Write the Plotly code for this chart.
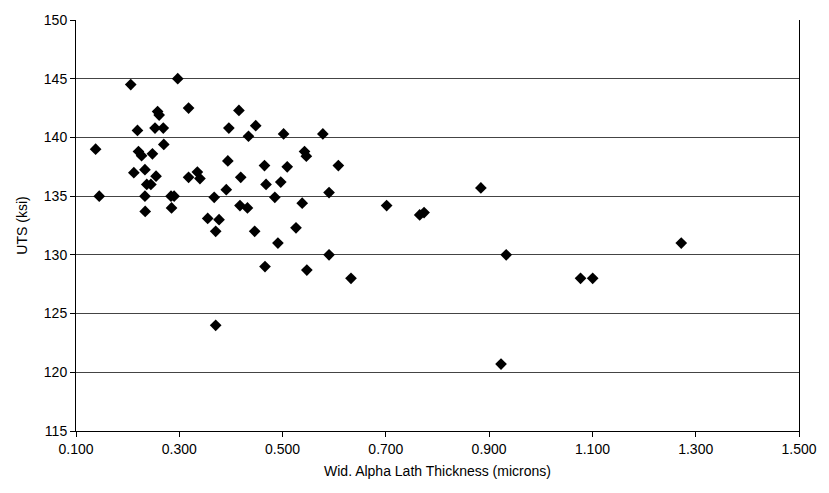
import plotly.graph_objects as go

thickness = [0.138, 0.145, 0.206, 0.297, 0.219, 0.258, 0.261, 0.253, 0.269, 0.270,
             0.221, 0.227, 0.248, 0.212, 0.2335, 0.255, 0.237, 0.245, 0.2335, 0.284,
             0.290, 0.234, 0.285, 0.318, 0.318, 0.335, 0.340, 0.3676, 0.355, 0.377,
             0.394, 0.396, 0.4155, 0.391, 0.419, 0.4175, 0.432, 0.434, 0.448, 0.465,
             0.468, 0.485, 0.4965, 0.502, 0.509, 0.538, 0.5425, 0.546, 0.578, 0.590,
             0.608, 0.7015, 0.7655, 0.774, 0.884, 0.526, 0.491, 0.590, 0.933, 0.547,
             0.6325, 0.3705, 0.446, 0.466, 0.3705, 1.077, 1.1005, 1.272, 0.923]
uts = [139.0, 135.0, 144.5, 145.0, 140.6, 142.2, 141.9, 140.8, 140.8, 139.4,
       138.8, 138.45, 138.6, 137.0, 137.25, 136.7, 136.0, 136.0, 135.0, 135.0,
       135.0, 133.7, 134.0, 142.5, 136.6, 137.05, 136.5, 134.9, 133.1, 133.0,
       138.0, 140.8, 142.3, 135.55, 136.6, 134.2, 134.0, 140.1, 141.0, 137.6,
       136.0, 134.9, 136.2, 140.3, 137.5, 134.4, 138.8, 138.4, 140.3, 135.3,
       137.6, 134.2, 133.4, 133.6, 135.7, 132.3, 131.0, 130.0, 130.0, 128.7,
       128.0, 132.0, 132.0, 129.0, 124.0, 128.0, 128.0, 131.0, 120.7]

x_ticks = [0.1, 0.3, 0.5, 0.7, 0.9, 1.1, 1.3, 1.5]
y_ticks = [115, 120, 125, 130, 135, 140, 145, 150]

fig = go.Figure()
fig.add_trace(go.Scatter(
    x=thickness, y=uts, mode="markers",
    marker=dict(symbol="diamond", size=9, color="black"),
    showlegend=False,
))

font_family = "Liberation Sans, Arial, sans-serif"
fig.update_layout(
    width=829, height=493,
    margin=dict(l=76, r=22, t=14, b=62),
    paper_bgcolor="white", plot_bgcolor="white",
    font=dict(family=font_family, size=14, color="black"),
    xaxis=dict(
        range=[0.1, 1.5], tickvals=x_ticks,
        ticktext=[f"{v:.3f}" for v in x_ticks],
        showgrid=False, zeroline=False,
        showline=True, linecolor="black", linewidth=1,
        ticks="outside", ticklen=5, tickcolor="black",
        title=dict(text="Wid. Alpha Lath Thickness (microns)", font=dict(size=14), standoff=10),
    ),
    yaxis=dict(
        range=[115, 150], tickvals=y_ticks,
        showgrid=True, gridcolor="#444444", gridwidth=1,
        zeroline=False,
        showline=True, linecolor="black", linewidth=1, mirror=True,
        ticks="outside", ticklen=5, tickcolor="black",
        title=dict(text="UTS (ksi)", font=dict(size=14), standoff=12),
    ),
)

fig.write_html("out.html")
